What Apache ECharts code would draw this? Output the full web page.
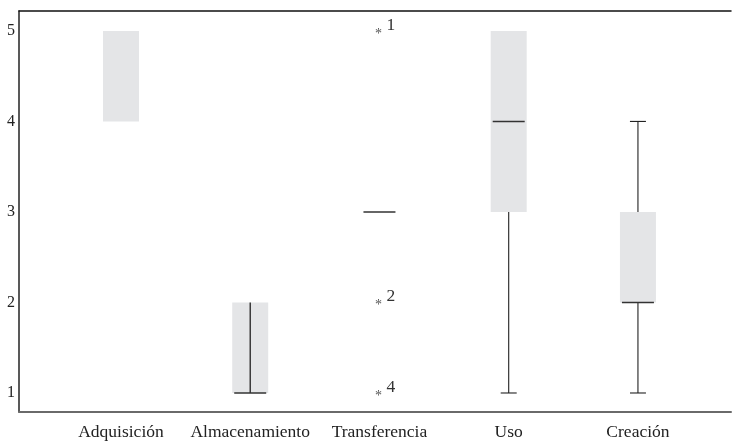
<!DOCTYPE html>
<html>
<head>
<meta charset="utf-8">
<script src="https://cdn.jsdelivr.net/npm/echarts@6/dist/echarts.min.js"></script>
<style>
  html, body { margin: 0; padding: 0; background: #fff; }
  #chart { width: 732px; height: 441px; }
</style>
</head>
<body>
<div id="chart"></div>
<script>
// Five-number summaries for each phase (scale 1–5)
const categories = ['Adquisición', 'Almacenamiento', 'Transferencia', 'Uso', 'Creación'];
const lowValues = [4, 1, 3, 1, 1];
const q1Values = [4, 1, 3, 3, 2];
const medianValues = [null, 1, 3, 4, 2];
const q3Values = [5, 2, 3, 5, 3];
const highValues = [5, 2, 3, 5, 4];
// Category whose stem is drawn through the box
const stemThrough = [false, true, false, false, false];

// Extreme cases (category index, value, case number)
const outlierCategory = [2, 2, 2];
const outlierValues = [5, 2, 1];
const outlierCases = ['1', '2', '4'];

const yTicks = [1, 2, 3, 4, 5];

const FONT = '"Liberation Serif", "Times New Roman", serif';
const BOX_HALF = 18;
const MEDIAN_HALF = 16;
const CAP_HALF = 8;

const boxData = categories.map((c, i) => [i, lowValues[i], q1Values[i], medianValues[i] == null ? NaN : medianValues[i], q3Values[i], highValues[i]]);
const outlierData = outlierValues.map((v, i) => [outlierCategory[i], v]);

const chart = echarts.init(document.getElementById('chart'), null, { renderer: 'canvas' });

function line(x1, y1, x2, y2, color, width) {
  return { type: 'line', shape: { x1, y1, x2, y2 }, style: { stroke: color, lineWidth: width } };
}

chart.setOption({
  animation: false,
  backgroundColor: '#ffffff',
  grid: { left: 19, right: 1, top: 11, bottom: 27 },
  xAxis: [
    {
      type: 'value',
      position: 'bottom',
      min: -0.789,
      max: 4.72,
      splitLine: { show: false },
      axisTick: { show: false },
      axisLine: { show: true, onZero: false, lineStyle: { color: '#6a6a6a', width: 2 } },
      axisLabel: {
        customValues: [0, 1, 2, 3, 4],
        formatter: v => categories[Math.round(v)],
        fontFamily: FONT,
        fontSize: 17.5,
        color: '#222',
        margin: 11
      }
    },
    {
      type: 'value',
      position: 'top',
      min: -0.789,
      max: 4.72,
      splitLine: { show: false },
      axisTick: { show: false },
      axisLabel: { show: false },
      axisLine: { show: true, onZero: false, lineStyle: { color: '#111', width: 1.5 } }
    }
  ],
  yAxis: {
    type: 'value',
    min: 0.79,
    max: 5.22,
    splitLine: { show: false },
    axisTick: { show: false },
    axisLine: { show: true, onZero: false, lineStyle: { color: '#222', width: 1.5 } },
    axisLabel: {
      customValues: yTicks,
      fontFamily: FONT,
      fontSize: 16,
      color: '#222',
      margin: 4
    }
  },
  series: [
    {
      type: 'custom',
      clip: false,
      data: boxData,
      encode: { x: 0, y: [1, 2, 3, 4, 5] },
      renderItem: function (params, api) {
        const i = api.value(0);
        const low = api.value(1), q1 = api.value(2), med = api.value(3), q3 = api.value(4), high = api.value(5);
        const cx = api.coord([i, q1])[0];
        const yLow = api.coord([i, low])[1];
        const yQ1 = api.coord([i, q1])[1];
        const yQ3 = api.coord([i, q3])[1];
        const yHigh = api.coord([i, high])[1];
        const children = [];
        if (q3 > q1) {
          children.push({
            type: 'rect',
            shape: { x: cx - BOX_HALF, y: yQ3, width: BOX_HALF * 2, height: yQ1 - yQ3 },
            style: { fill: '#e4e5e7' }
          });
        }
        if (stemThrough[i]) {
          children.push(line(cx, yQ3, cx, yQ1, '#222', 1.3));
        }
        if (high > q3) {
          children.push(line(cx, yQ3, cx, yHigh, '#222', 1.1));
          children.push(line(cx - CAP_HALF, yHigh, cx + CAP_HALF, yHigh, '#222', 1.1));
        }
        if (low < q1) {
          children.push(line(cx, yQ1, cx, yLow, '#222', 1.1));
          children.push(line(cx - CAP_HALF, yLow, cx + CAP_HALF, yLow, '#222', 1.1));
        }
        if (!isNaN(med)) {
          const yMed = api.coord([i, med])[1];
          children.push(line(cx - MEDIAN_HALF, yMed, cx + MEDIAN_HALF, yMed, '#333', 1.6));
        }
        return { type: 'group', children };
      }
    },
    {
      type: 'custom',
      clip: false,
      data: outlierData,
      encode: { x: 0, y: 1 },
      renderItem: function (params, api) {
        const p = api.coord([api.value(0), api.value(1)]);
        return {
          type: 'group',
          children: [
            {
              type: 'text',
              x: p[0] - 1, y: p[1] + 3,
              style: { text: '*', fontFamily: FONT, fontSize: 14, fill: '#555', align: 'center', verticalAlign: 'middle' }
            },
            {
              type: 'text',
              x: p[0] + 7, y: p[1] - 6,
              style: { text: outlierCases[params.dataIndex], fontFamily: FONT, fontSize: 17.5, fill: '#333', align: 'left', verticalAlign: 'middle' }
            }
          ]
        };
      }
    }
  ]
});
</script>
</body>
</html>
